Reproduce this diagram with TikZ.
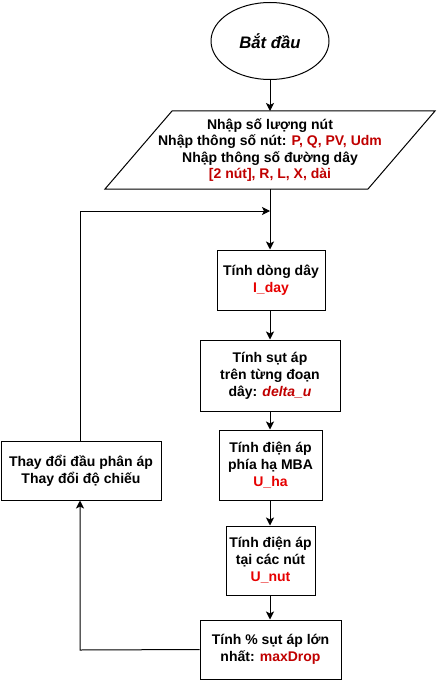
\documentclass[tikz,border=0pt]{standalone}
\usepackage{fontspec}
\setmainfont{Liberation Sans}
\usetikzlibrary{arrows.meta,shapes.geometric}
\definecolor{dred}{HTML}{C00000}
\definecolor{bred}{HTML}{E60000}
\begin{document}
\begin{tikzpicture}[x=0.75pt,y=-0.75pt,
  every node/.style={font=\fontsize{10.5}{12.8}\selectfont\bfseries, align=center, text=black},
  box/.style={draw, line width=0.75pt, rectangle, inner sep=0pt},
  conn/.style={line width=0.75pt, -{Stealth[length=6pt,width=6pt,inset=1.5pt]}},
  line/.style={line width=0.75pt}]
\useasboundingbox (0,0) rectangle (436,681);
% start
\node[draw, ellipse, line width=0.75pt, minimum width=88.5pt, minimum height=57.75pt, inner sep=0pt,
  font=\fontsize{12.5}{15}\selectfont\bfseries\itshape] (start) at (270,41) {Bắt đầu};
% input parallelogram
\coordinate (pTL) at (172,111);
\coordinate (pTR) at (435,111);
\coordinate (pBR) at (368,189);
\coordinate (pBL) at (105,189);
\draw[line] (pTL) -- (pTR) -- (pBR) -- (pBL) -- cycle;
\coordinate (inTop) at (270,111);
\coordinate (inBot) at (270,189);
\node[font=\fontsize{10.5}{12.4}\selectfont\bfseries] (input) at (270,150) {Nhập số lượng nút\\Nhập thông số nút: \textcolor{dred}{P, Q, PV, Udm}\\Nhập thông số đường dây\\\textcolor{dred}{[2 nút], R, L, X, dài}};
% process boxes
\node[box, minimum width=81pt, minimum height=45pt] (iday) at (271,280) {Tính dòng dây\\\textcolor{bred}{I\_day}};
\node[box, minimum width=105pt, minimum height=53.25pt] (du) at (270,375.5) {Tính sụt áp\\trên từng đoạn\\dây: \textcolor{dred}{\itshape delta\_u}};
\node[box, minimum width=77.25pt, minimum height=52.5pt] (uha) at (270.5,465) {Tính điện áp\\phía hạ MBA\\\textcolor{bred}{U\_ha}};
\node[box, minimum width=66.75pt, minimum height=51.75pt] (unut) at (270.5,560.5) {Tính điện áp\\tại các nút\\\textcolor{bred}{U\_nut}};
\node[box, minimum width=105.75pt, minimum height=44.25pt] (maxd) at (270.5,649.5) {Tính \% sụt áp lớn\\nhất: \textcolor{dred}{maxDrop}};
\node[box, minimum width=120pt, minimum height=44.25pt] (chg) at (81,470.5) {Thay đổi đầu phân áp\\Thay đổi độ chiếu};
% join point
\coordinate (join) at (270,211);
\coordinate (lTop) at (80,211);
\coordinate (lBot) at (80,650);
% connectors
\draw[conn] (start.south) -- (inTop);
\draw[conn] (inBot) -- (iday.north -| inBot);
\draw[conn] (iday.south -| du.north) -- (du.north);
\draw[conn] (du.south) -- (uha.north -| du.south);
\draw[conn] (uha.south -| du.south) -- (unut.north -| du.south);
\draw[conn] (unut.south -| du.south) -- (maxd.north -| du.south);
\draw[conn] (maxd.west) -- (lBot) -- (chg.south -| lBot);
\draw[conn] (chg.north -| lTop) -- (lTop) -- (join);
\end{tikzpicture}
\end{document}
